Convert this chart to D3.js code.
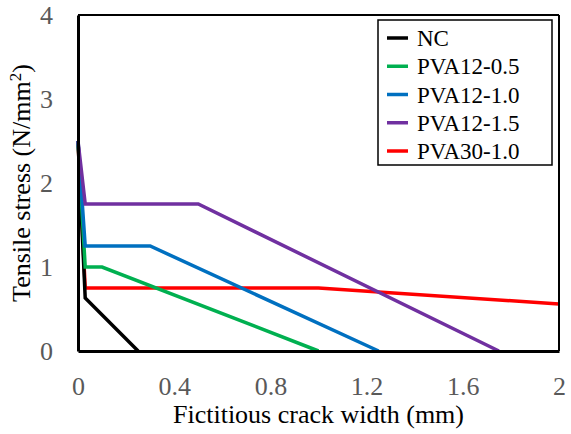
<!DOCTYPE html>
<html>
<head>
<meta charset="utf-8">
<script src="https://cdn.jsdelivr.net/npm/d3@7"></script>
<style>
  html, body { margin: 0; padding: 0; background: #fff; }
  svg { display: block; }
</style>
</head>
<body>
<svg id="chart" width="571" height="434"></svg>
<script>
// Tension-softening curves: tensile stress vs fictitious crack width
const seriesNames = ["NC", "PVA12-0.5", "PVA12-1.0", "PVA12-1.5", "PVA30-1.0"];
const seriesColors = ["#000000", "#00B050", "#0070C0", "#7030A0", "#FF0000"];

const ncX = [0, 0.03, 0.25];
const ncY = [2.5, 0.63, 0];
const pva12_05X = [0, 0.03, 0.1, 1.0];
const pva12_05Y = [2.5, 1.0, 1.0, 0];
const pva12_10X = [0, 0.03, 0.3, 1.25];
const pva12_10Y = [2.5, 1.25, 1.25, 0];
const pva12_15X = [0, 0.03, 0.5, 1.75];
const pva12_15Y = [2.5, 1.75, 1.75, 0];
const pva30_10X = [0, 0.03, 1.0, 2.0];
const pva30_10Y = [2.5, 0.75, 0.75, 0.56];

const xTicks = [0, 0.4, 0.8, 1.2, 1.6, 2];
const yTicks = [0, 1, 2, 3, 4];

const series = [
  { name: seriesNames[0], color: seriesColors[0], xs: ncX, ys: ncY },
  { name: seriesNames[1], color: seriesColors[1], xs: pva12_05X, ys: pva12_05Y },
  { name: seriesNames[2], color: seriesColors[2], xs: pva12_10X, ys: pva12_10Y },
  { name: seriesNames[3], color: seriesColors[3], xs: pva12_15X, ys: pva12_15Y },
  { name: seriesNames[4], color: seriesColors[4], xs: pva30_10X, ys: pva30_10Y }
];

const svg = d3.select("#chart");
const margin = { left: 78, top: 15, right: 12, bottom: 83 };
const W = 571, H = 434;
const pw = W - margin.left - margin.right;
const ph = H - margin.top - margin.bottom;

const x = d3.scaleLinear().domain([0, 2]).range([0, pw]);
const y = d3.scaleLinear().domain([0, 4]).range([ph, 0]);

const g = svg.append("g").attr("transform", `translate(${margin.left},${margin.top})`);

const font = "'Liberation Serif', 'Times New Roman', Tinos, 'DejaVu Serif', serif";

// Curves: the PVA30 curve sits underneath the others
const line = d3.line().x(d => x(d[0])).y(d => y(d[1]));
const drawOrder = [4, 0, 1, 2, 3];
drawOrder.forEach(i => {
  const s = series[i];
  const pts = s.xs.map((v, k) => [v, s.ys[k]]);
  g.append("path")
    .attr("d", line(pts))
    .attr("fill", "none")
    .attr("stroke", s.color)
    .attr("stroke-width", 3.5)
    .attr("stroke-linejoin", "miter");
});

// Frame: thin top/right, heavy left/bottom
g.append("line").attr("x1", 0).attr("x2", pw).attr("y1", 0).attr("y2", 0)
  .attr("stroke", "#000").attr("stroke-width", 2);
g.append("line").attr("x1", pw).attr("x2", pw).attr("y1", 0).attr("y2", ph)
  .attr("stroke", "#000").attr("stroke-width", 2);

// Axes
const xAxis = d3.axisBottom(x).tickValues(xTicks).tickSize(0).tickPadding(25.5)
  .tickFormat(d => d === 0 || d === 2 ? String(d) : d3.format(".1f")(d));
const yAxis = d3.axisLeft(y).tickValues(yTicks).tickSize(0).tickPadding(25)
  .tickFormat(d3.format("d"));

const gx = g.append("g").attr("transform", `translate(0,${ph})`).call(xAxis);
const gy = g.append("g").call(yAxis);

[gx, gy].forEach(a => {
  a.attr("font-family", null).attr("font-size", null);
  a.select(".domain").attr("stroke", "#000").attr("stroke-width", 3);
  a.selectAll("text").attr("fill", "#595959")
    .style("font-family", font).style("font-size", "26px");
});

// Axis titles
svg.append("text")
  .attr("x", margin.left + pw / 2).attr("y", 423)
  .attr("text-anchor", "middle")
  .style("font-family", font).style("font-size", "26px").attr("fill", "#000")
  .text("Fictitious crack width (mm)");

const yt = svg.append("text")
  .attr("transform", `translate(30,${margin.top + ph / 2}) rotate(-90)`)
  .attr("text-anchor", "middle")
  .style("font-family", font).style("font-size", "26px").attr("fill", "#000");
yt.append("tspan").text("Tensile stress (N/mm");
yt.append("tspan").attr("baseline-shift", "super").style("font-size", "17px").text("2");
yt.append("tspan").text(")");

// Legend
const lg = svg.append("g");
lg.append("rect")
  .attr("x", 378).attr("y", 20).attr("width", 174).attr("height", 145)
  .attr("fill", "#fff").attr("stroke", "#000").attr("stroke-width", 1.5);

const rowY = d3.scaleLinear().domain([0, 4]).range([38, 151]);
series.forEach((s, i) => {
  const cy = rowY(i);
  lg.append("line")
    .attr("x1", 387).attr("x2", 408).attr("y1", cy).attr("y2", cy)
    .attr("stroke", s.color).attr("stroke-width", 3.5);
  lg.append("text")
    .attr("x", 417).attr("y", cy).attr("dy", "0.35em")
    .style("font-family", font).style("font-size", "23px").attr("fill", "#000")
    .text(s.name);
});
</script>
</body>
</html>
